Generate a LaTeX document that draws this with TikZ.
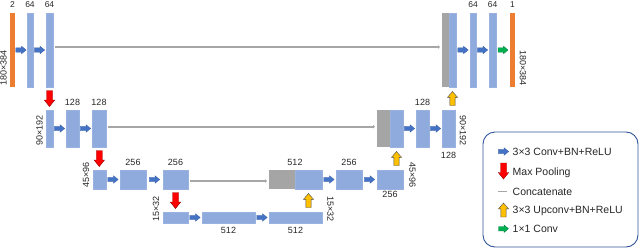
\documentclass[tikz,border=0pt]{standalone}
\usepackage{fontspec}
\setmainfont{Liberation Sans}
\usetikzlibrary{calc,arrows.meta}
\definecolor{barblue}{HTML}{8FAADC}
\definecolor{bargray}{HTML}{A5A5A5}
\definecolor{barorange}{HTML}{ED7D31}
\definecolor{arrblue}{HTML}{4472C4}
\definecolor{arrred}{HTML}{FF0000}
\definecolor{arryellow}{HTML}{FFC000}
\definecolor{arrgreen}{HTML}{00B050}
\definecolor{legendline}{HTML}{2F5597}
\definecolor{concatgray}{HTML}{A6A6A6}
\tikzset{
  pics/convarr/.style={code={
    \filldraw[fill=arrblue,draw=arrblue!85!black,line width=0.3pt]
      (-5.2,-2.2)--(0.6,-2.2)--(0.6,-3.7)--(5.2,0)--(0.6,3.7)--(0.6,2.2)--(-5.2,2.2)--cycle;}},
  pics/onearr/.style={code={
    \filldraw[fill=arrgreen,draw=arrgreen!70!black,line width=0.3pt]
      (-5,-2.2)--(0.6,-2.2)--(0.6,-3.7)--(5,0)--(0.6,3.7)--(0.6,2.2)--(-5,2.2)--cycle;}},
  pics/poolarr/.style={code={
    \filldraw[fill=arrred,draw=arrred!60!black,line width=0.4pt]
      (-8,-3)--(1.5,-3)--(1.5,-5.2)--(8,0)--(1.5,5.2)--(1.5,3)--(-8,3)--cycle;}},
  pics/uparr/.style={code={
    \filldraw[fill=arryellow,draw=black!70,line width=0.4pt]
      (-7,-2.6)--(1.2,-2.6)--(1.2,-5)--(7,0)--(1.2,5)--(1.2,2.6)--(-7,2.6)--cycle;}},
}
\begin{document}
\begin{tikzpicture}[x=1pt,y=-1pt,
  bar/.style={fill=barblue,draw=barblue!90!white,line width=0.3pt,inner sep=0,outer sep=0},
  gbar/.style={fill=bargray,draw=none,inner sep=0,outer sep=0},
  obar/.style={fill=barorange,draw=none,inner sep=0,outer sep=0},
  lone/.style={minimum height=74},
  ltwo/.style={minimum height=37},
  lthree/.style={minimum height=19},
  lfour/.style={minimum height=11},
  lbl/.style={font=\fontsize{9}{10}\selectfont,text=black!85,inner sep=1pt},
  lbltop/.style={font=\fontsize{8.5}{10}\selectfont,text=black!85,inner sep=1pt,anchor=base},
  lleft/.style={lbl,rotate=90,anchor=south west},
  lright/.style={lbl,rotate=-90,anchor=south east},
  concat/.style={draw=concatgray,line width=1.8pt,-{Triangle[length=2pt,width=3.5pt]}},
  legtext/.style={font=\fontsize{10.5}{12}\selectfont,text=black!85,anchor=base west,inner sep=0},
]
\useasboundingbox (0,0) rectangle (640,249);
% ---- level 1
\node[obar,lone,minimum width=5] (in)  at (12.5,50) {};
\node[bar,lone,minimum width=6]  (c1a) at (30,50) {};
\node[bar,lone,minimum width=7]  (c1b) at (49.5,50) {};
\node[gbar,lone,minimum width=7] (cat1g) at (445.5,50) {};
\node[bar,lone,minimum width=7]  (cat1b) at (452.5,50) {};
\node[bar,lone,minimum width=6]  (d1a) at (473,50) {};
\node[bar,lone,minimum width=7]  (d1b) at (492.5,50) {};
\node[obar,lone,minimum width=5] (out) at (512.5,50) {};
% ---- level 2
\node[bar,ltwo,minimum width=7]  (p2)  at (49.5,128.5) {};
\node[bar,ltwo,minimum width=13] (c2a) at (72.5,128.5) {};
\node[bar,ltwo,minimum width=14] (c2b) at (99,128.5) {};
\node[gbar,ltwo,minimum width=13] (cat2g) at (383.5,128.5) {};
\node[bar,ltwo,minimum width=13] (cat2b) at (396.5,128.5) {};
\node[bar,ltwo,minimum width=13] (d2a) at (422.5,128.5) {};
\node[bar,ltwo,minimum width=13] (d2b) at (448.5,128.5) {};
% ---- level 3
\node[bar,lthree,minimum width=13] (p3)  at (99.5,179.5) {};
\node[bar,lthree,minimum width=26] (c3a) at (133,179.5) {};
\node[bar,lthree,minimum width=25] (c3b) at (175.5,179.5) {};
\node[gbar,lthree,minimum width=26] (cat3g) at (282,179.5) {};
\node[bar,lthree,minimum width=27] (cat3b) at (308.5,179.5) {};
\node[bar,lthree,minimum width=26] (d3a) at (349,179.5) {};
\node[bar,lthree,minimum width=26] (d3b) at (390,179.5) {};
% ---- level 4
\node[bar,lfour,minimum width=25] (p4)  at (175.5,217.5) {};
\node[bar,lfour,minimum width=53] (c4a) at (228.5,217.5) {};
\node[bar,lfour,minimum width=53] (c4b) at (295.5,217.5) {};
% ---- conv arrows
\pic at ($(in.east)!0.5!(c1a.west)$) {convarr};
\pic at ($(c1a.east)!0.5!(c1b.west)$) {convarr};
\pic at ($(p2.east)!0.5!(c2a.west)$) {convarr};
\pic at ($(c2a.east)!0.5!(c2b.west)$) {convarr};
\pic at ($(p3.east)!0.5!(c3a.west)$) {convarr};
\pic at ($(c3a.east)!0.5!(c3b.west)$) {convarr};
\pic at ($(p4.east)!0.5!(c4a.west)$) {convarr};
\pic at ($(c4a.east)!0.5!(c4b.west)$) {convarr};
\pic at ($(cat3b.east)!0.5!(d3a.west)$) {convarr};
\pic at ($(d3a.east)!0.5!(d3b.west)$) {convarr};
\pic at ($(cat2b.east)!0.5!(d2a.west)$) {convarr};
\pic at ($(d2a.east)!0.5!(d2b.west)$) {convarr};
\pic at ($(cat1b.east)!0.5!(d1a.west)$) {convarr};
\pic at ($(d1a.east)!0.5!(d1b.west)$) {convarr};
\pic at ($(d1b.east)!0.5!(out.west)$) {onearr};
% ---- pooling arrows
\pic[rotate=-90] at ($(c1b.south)!0.5!(p2.north)$) {poolarr};
\pic[rotate=-90] at ($(c2b.south)!0.5!(p3.north)$) {poolarr};
\pic[rotate=-90] at ($(c3b.south)!0.5!(p4.north)$) {poolarr};
% ---- up arrows
\pic[rotate=90] at ($(c4b.north -| cat3b)!0.5!(cat3b.south)$) {uparr};
\pic[rotate=90] at ($(d3b.north -| cat2b)!0.5!(cat2b.south)$) {uparr};
\pic[rotate=90] at ($(d2b.north -| cat1b)!0.5!(cat1b.south)$) {uparr};
% ---- concatenations
\draw[concat] ([xshift=2pt,yshift=3pt]c1b.east) -- ([xshift=-2pt,yshift=3pt]cat1g.west);
\draw[concat] ([xshift=2pt,yshift=1.8pt]c2b.east) -- ([xshift=-2pt,yshift=1.8pt]cat2g.west);
\draw[concat] ([xshift=2pt,yshift=-1.5pt]c3b.east) -- ([xshift=-2pt,yshift=-1.5pt]cat3g.west);
% ---- channel labels
\node[lbltop] (t1) at ([yshift=5pt]in.north) {2};
\node[lbltop] (t2) at ([yshift=5pt]c1a.north) {64};
\node[lbltop] (t3) at ([yshift=5pt]c1b.north) {64};
\node[lbltop] (t4) at ([yshift=5pt]d1a.north) {64};
\node[lbltop] (t5) at ([yshift=5pt]d1b.north) {64};
\node[lbltop] (t6) at ([yshift=5pt]out.north) {1};
\node[lbl,anchor=base] (t7) at ([yshift=5pt]c2a.north) {128};
\node[lbl,anchor=base] (t8) at ([yshift=5pt]c2b.north) {128};
\node[lbl,anchor=base] (t9) at ([yshift=5pt]d2a.north) {128};
\node[lbl,anchor=base] (t10) at ([yshift=-11.5pt]d2b.south) {128};
\node[lbl,anchor=base] (t11) at ([yshift=5pt]c3a.north) {256};
\node[lbl,anchor=base] (t12) at ([yshift=5pt]c3b.north) {256};
\node[lbl,anchor=base] (t13) at ([yshift=5pt]cat3b.north west) {512};
\node[lbl,anchor=base] (t14) at ([yshift=5pt]d3a.north) {256};
\node[lbl,anchor=base] (t15) at ([yshift=-8.5pt]d3b.south) {256};
\node[lbl,anchor=base] (t16) at ([yshift=-10.5pt]c4a.south) {512};
\node[lbl,anchor=base] (t17) at ([yshift=-10.5pt]c4b.south) {512};
% ---- size labels
\node[lleft] (s1) at ([xshift=-2pt]in.south west) {180×384};
\node[lleft] (s2) at ([xshift=-2pt]p2.south west) {90×192};
\node[lleft] (s3) at ([xshift=-2.5pt]p3.south west) {45×96};
\node[lleft] (s4) at ([xshift=-2.5pt]p4.south west) {15×32};
\node[lright] (s5) at ([xshift=3.5pt]out.south east) {180×384};
\node[lright] (s6) at ([xshift=3.5pt]d2b.south east) {90×192};
\node[lright] (s7) at ([xshift=5pt]d3b.south east) {45×96};
\node[lright] (s8) at ([xshift=4pt]c4b.south east) {15×32};
% ---- legend
\node[draw=legendline,line width=0.9pt,rounded corners=12pt,minimum width=155,minimum height=115,inner sep=0] (legend) at (560.5,189.5) {};
\pic at (503.5,151.5) {convarr};
\pic[rotate=-90] at (503.5,171) {poolarr};
\coordinate (gl1) at (498,191.5);
\coordinate (gl2) at (507,191.5);
\draw[draw=concatgray,line width=1.5pt] (gl1) -- (gl2);
\pic[rotate=90] at (503.5,210) {uparr};
\pic at (503.5,228.7) {onearr};
\node[legtext] (e1) at (512.5,155.5) {3×3 Conv+BN+ReLU};
\node[legtext] (e2) at (512.5,175.5) {Max Pooling};
\node[legtext] (e3) at (512.5,195.2) {Concatenate};
\node[legtext] (e4) at (512.5,213.8) {3×3 Upconv+BN+ReLU};
\node[legtext] (e5) at (512.5,232.3) {1×1 Conv};
\end{tikzpicture}
\end{document}
